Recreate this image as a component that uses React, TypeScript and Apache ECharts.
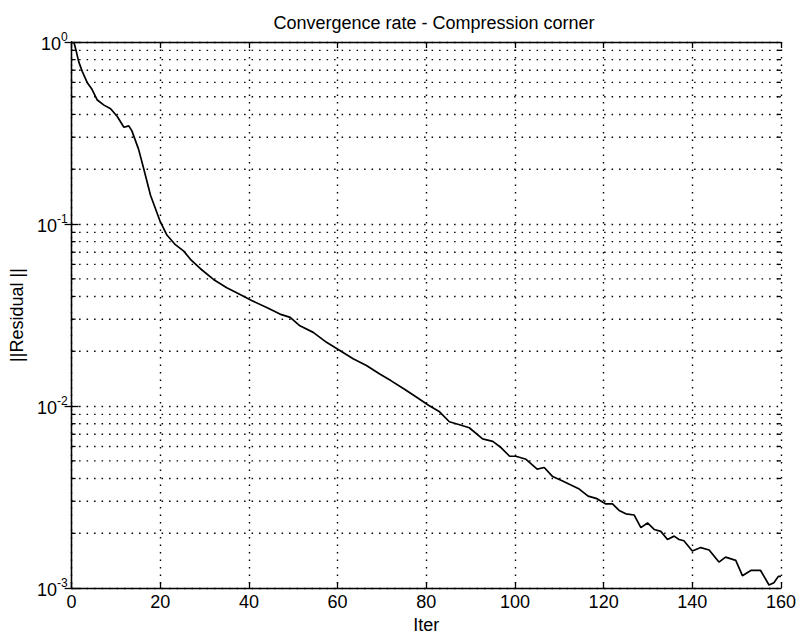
import React, { useEffect, useRef } from "react";
import * as echarts from "echarts";

const titleText = "Convergence rate - Compression corner";
const xName = "Iter";
const yName = "||Residual ||";

const iterations = [
  0.5, 1.0, 1.6, 2.4, 3.5, 4.6, 5.8, 7.3, 8.8, 10.3, 11.8, 12.9, 13.6, 15.1, 16.3, 17.8,
  20, 21.5, 23.4, 25.3, 26.8, 29, 32, 35, 38, 40.6, 44, 47, 49.3, 51.5, 54.5, 57.5,
  60.5, 63.5, 66.5, 69.5, 72, 75, 78, 80.5, 83, 85.2, 87.5, 89.7, 92.7, 95, 96.9,
  98.8, 100.2, 102.5, 105, 106.6, 108.5, 110.5, 112.5, 114.5, 116.5, 118.5, 120.5,
  122, 123.5, 125, 126.9, 128.4, 129.9, 131.4, 132.9, 134.4, 135.9, 137, 138.1, 140,
  141.9, 143.8, 146, 147.5, 149.8, 151.3, 153.2, 155.4, 157.3, 158.4, 159.4, 160,
];

const residuals = [
  1.0, 0.9, 0.78, 0.69, 0.6, 0.55, 0.48, 0.45, 0.43, 0.39, 0.34, 0.346, 0.325, 0.258,
  0.2, 0.144, 0.103, 0.087, 0.077, 0.071, 0.064, 0.057, 0.0496, 0.0447, 0.041, 0.038,
  0.0348, 0.032, 0.0307, 0.0276, 0.0254, 0.0224, 0.0202, 0.0182, 0.0167, 0.015,
  0.0138, 0.0124, 0.0111, 0.0101, 0.0093, 0.0082, 0.0079, 0.0076, 0.0066, 0.0064,
  0.0059, 0.0053, 0.0053, 0.0051, 0.0045, 0.0046, 0.0041, 0.0039, 0.0037, 0.0035,
  0.0032, 0.0031, 0.0029, 0.0029, 0.00267, 0.00256, 0.00252, 0.00215, 0.00228,
  0.0021, 0.00205, 0.00185, 0.00193, 0.00185, 0.00182, 0.0016, 0.00167, 0.00162,
  0.00139, 0.00148, 0.00142, 0.00117, 0.00125, 0.00125, 0.00104, 0.00107, 0.00116,
  0.00116,
];

const minorGridValues = [
  0.002, 0.003, 0.004, 0.005, 0.006, 0.007, 0.008, 0.009,
  0.02, 0.03, 0.04, 0.05, 0.06, 0.07, 0.08, 0.09,
  0.2, 0.3, 0.4, 0.5, 0.6, 0.7, 0.8, 0.9,
];

const xMin = 0;
const xMax = 160;
const xStep = 20;
const yMin = 0.001;
const yMax = 1;

const FONT = "'Liberation Sans', Arial, Helvetica, sans-serif";

export default function App() {
  const ref = useRef<HTMLDivElement>(null);

  useEffect(() => {
    if (!ref.current) return;
    const chart = echarts.init(ref.current, null, { renderer: "svg" });
    const dotted = [1.5, 6];

    const option: any = {
      animation: false,
      backgroundColor: "#ffffff",
      title: {
        text: titleText,
        left: 429,
        top: 9,
        textAlign: "center",
        textStyle: { fontFamily: FONT, fontSize: 18, fontWeight: "normal", color: "#000" },
      },
      grid: { left: 71, right: 17, top: 42, bottom: 48, containLabel: false },
      xAxis: [
        {
          type: "value",
          min: xMin,
          max: xMax,
          interval: xStep,
          position: "bottom",
          name: xName,
          nameLocation: "middle",
          nameGap: 27,
          nameTextStyle: { fontFamily: FONT, fontSize: 18, color: "#000" },
          axisLine: { lineStyle: { color: "#000", width: 1.3 } },
          axisTick: { inside: true, length: 6, lineStyle: { color: "#000", width: 1.3 } },
          axisLabel: { fontFamily: FONT, fontSize: 18, color: "#000", margin: 5 },
          splitLine: { show: true, lineStyle: { color: "#000", type: dotted, width: 1.4 } },
        },
        {
          type: "value",
          min: xMin,
          max: xMax,
          interval: xStep,
          position: "top",
          axisLine: { lineStyle: { color: "#000", width: 1.3 } },
          axisTick: { inside: true, length: 6, lineStyle: { color: "#000", width: 1.3 } },
          axisLabel: { show: false },
          splitLine: { show: false },
        },
      ],
      yAxis: [
        {
          type: "log",
          logBase: 10,
          min: yMin,
          max: yMax,
          position: "left",
          name: yName,
          nameLocation: "middle",
          nameGap: 40,
          nameRotate: 90,
          nameTextStyle: { fontFamily: FONT, fontSize: 18, color: "#000" },
          axisLine: { lineStyle: { color: "#000", width: 1.3 } },
          axisTick: { inside: true, length: 7, lineStyle: { color: "#000", width: 1.3 } },
          axisLabel: {
            margin: 4,
            formatter: (v: number) => {
              const e = Math.round(Math.log10(v));
              return "{b|10}{s|" + e + "}";
            },
            rich: {
              b: { fontFamily: FONT, fontSize: 18, color: "#000", verticalAlign: "bottom", lineHeight: 22 },
              s: { fontFamily: FONT, fontSize: 12, color: "#000", verticalAlign: "top", lineHeight: 22 },
            },
          },
          splitLine: { show: true, lineStyle: { color: "#000", type: dotted, width: 1.4 } },
        },
        {
          type: "log",
          logBase: 10,
          min: yMin,
          max: yMax,
          position: "right",
          axisLine: { show: true, lineStyle: { color: "#000", width: 1.3 } },
          axisTick: { show: true, inside: true, length: 7, lineStyle: { color: "#000", width: 1.3 } },
          axisLabel: { show: false },
          splitLine: { show: false },
        },
      ],
      series: [
        {
          type: "custom",
          xAxisIndex: 0,
          yAxisIndex: 0,
          silent: true,
          clip: false,
          z: 1,
          data: minorGridValues.map((v) => [xMin, v]),
          renderItem: (_params: any, api: any) => {
            const v = api.value(1);
            const p1 = api.coord([xMin, v]);
            const p2 = api.coord([xMax, v]);
            return {
              type: "group",
              children: [
                {
                  type: "line",
                  shape: { x1: p1[0], y1: p1[1], x2: p2[0], y2: p2[1] },
                  style: { stroke: "#000", lineWidth: 1.4, lineDash: dotted },
                },
                {
                  type: "line",
                  shape: { x1: p1[0], y1: p1[1], x2: p1[0] + 4, y2: p1[1] },
                  style: { stroke: "#000", lineWidth: 1.3 },
                },
                {
                  type: "line",
                  shape: { x1: p2[0] - 4, y1: p2[1], x2: p2[0], y2: p2[1] },
                  style: { stroke: "#000", lineWidth: 1.3 },
                },
              ],
            };
          },
        },
        {
          type: "line",
          xAxisIndex: 0,
          yAxisIndex: 0,
          z: 3,
          showSymbol: false,
          symbol: "none",
          data: iterations.map((x, i) => [x, residuals[i]]),
          lineStyle: { color: "#000", width: 1.7 },
        },
      ],
    };

    chart.setOption(option);
    return () => chart.dispose();
  }, []);

  return (
    <div
      ref={ref}
      style={{ position: "fixed", left: 0, top: 0, width: 799, height: 639 }}
    />
  );
}
